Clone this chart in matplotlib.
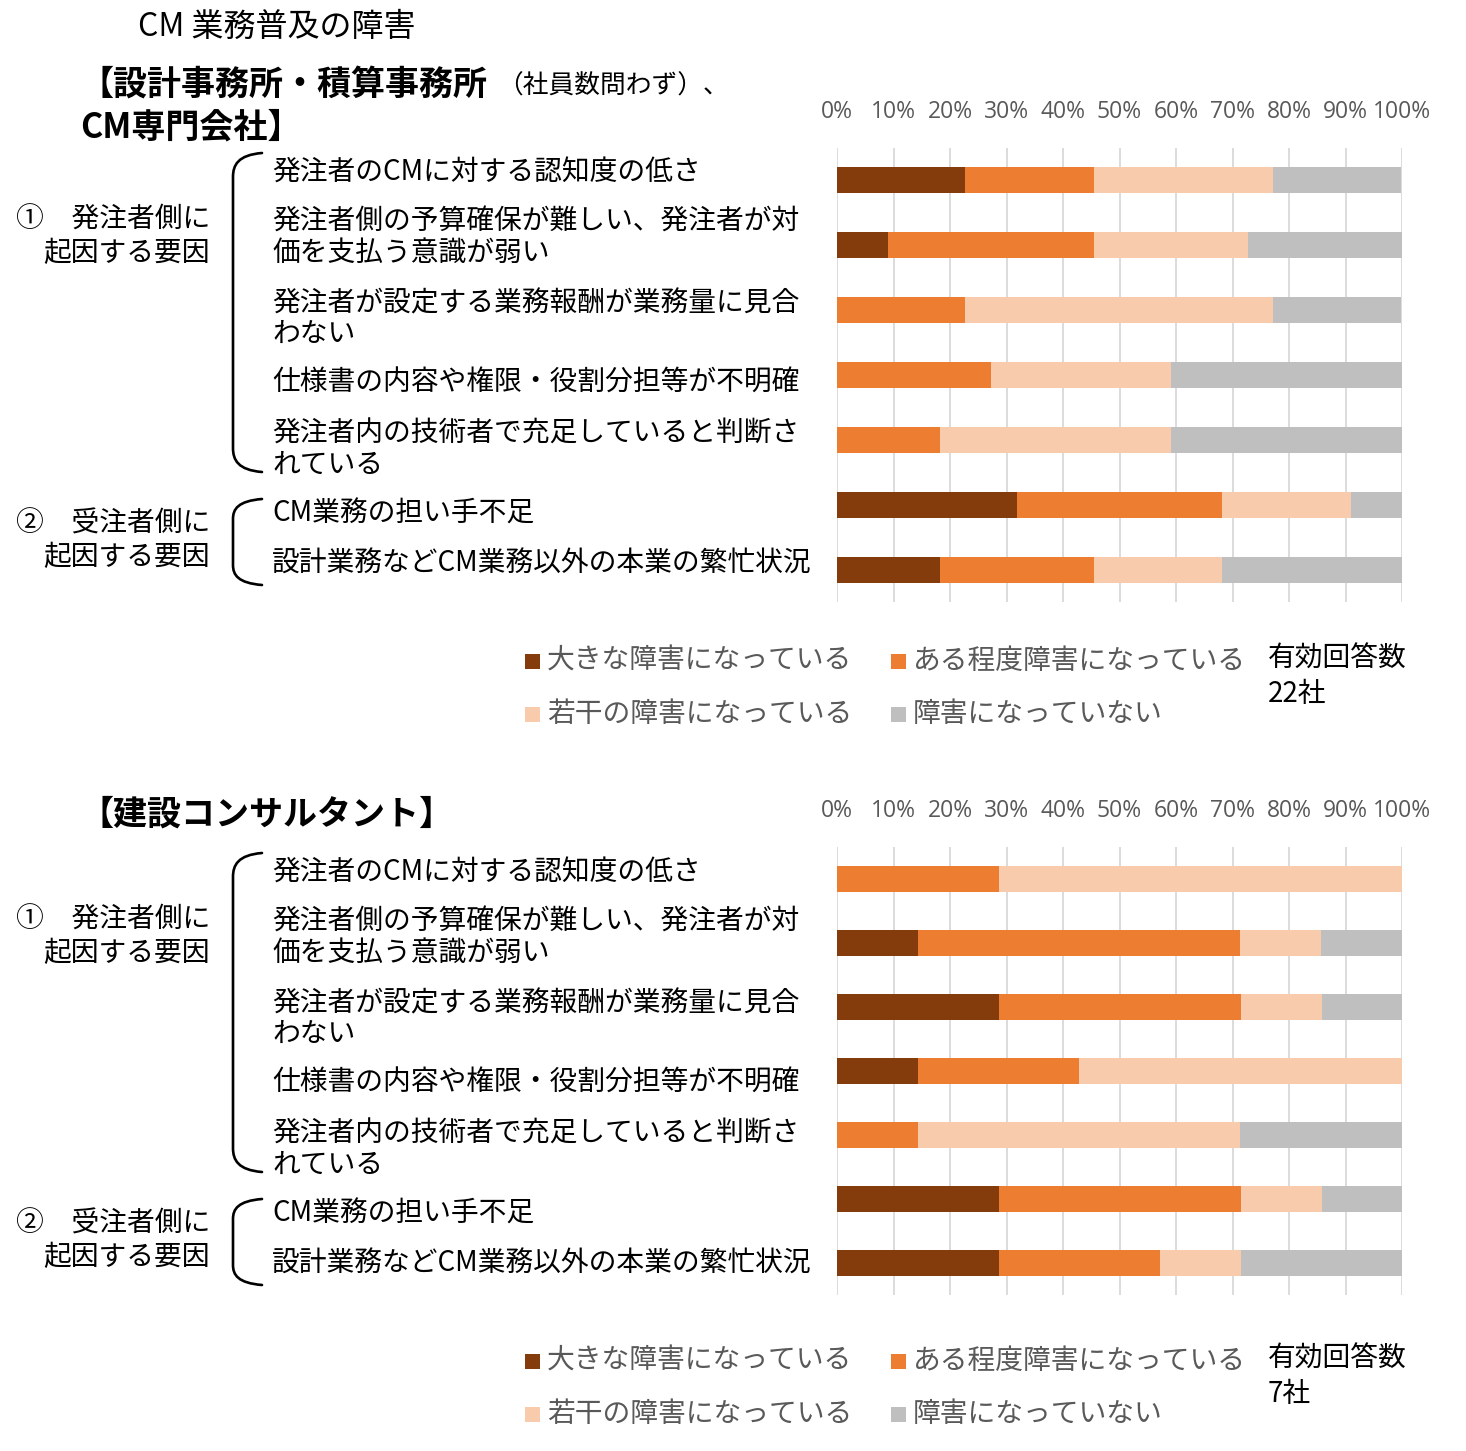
import numpy as np
import matplotlib
matplotlib.use('Agg')
import matplotlib.pyplot as plt
from matplotlib.path import Path
from matplotlib.patches import PathPatch, Rectangle

plt.rcParams['font.family'] = ['Noto Sans CJK JP', 'DejaVu Sans']

# data
categories = [
    '発注者のCMに対する認知度の低さ',
    '発注者側の予算確保が難しい、発注者が対\n価を支払う意識が弱い',
    '発注者が設定する業務報酬が業務量に見合\nわない',
    '仕様書の内容や権限・役割分担等が不明確',
    '発注者内の技術者で充足していると判断さ\nれている',
    'CM業務の担い手不足',
    '設計業務などCM業務以外の本業の繁忙状況',
]
series_names = ['大きな障害になっている', 'ある程度障害になっている',
                '若干の障害になっている', '障害になっていない']
colors = ['#843C0C', '#ED7D31', '#F8CBAD', '#BFBFBF']

# 設計事務所・積算事務所、CM専門会社 (22社), %
a_major = [22.7, 9.1, 0, 0, 0, 31.8, 18.2]
a_some = [22.7, 36.4, 22.7, 27.3, 18.2, 36.4, 27.3]
a_slight = [31.8, 27.3, 54.5, 31.8, 40.9, 22.7, 22.7]
a_none = [22.7, 27.3, 22.7, 40.9, 40.9, 9.1, 31.8]

# 建設コンサルタント (7社), %
b_major = [0, 14.3, 28.6, 14.3, 0, 28.6, 28.6]
b_some = [28.6, 57.1, 42.9, 28.6, 14.3, 42.9, 28.6]
b_slight = [71.4, 14.3, 14.3, 57.1, 57.1, 14.3, 14.3]
b_none = [0, 14.3, 14.3, 0, 28.6, 14.3, 28.6]

ticks = list(range(0, 101, 10))

W, H = 1466, 1451
fig = plt.figure(figsize=(W / 100, H / 100), dpi=100)
fig.patch.set_facecolor('white')

ov = fig.add_axes([0, 0, 1, 1], zorder=5)
ov.set_xlim(0, W)
ov.set_ylim(H, 0)
ov.axis('off')

FS = 20


def bracket(x_end, x_line, y_top, y_bot, r):
    verts = [(x_end, y_top), (x_line + 5, y_top + 2), (x_line, y_top + r * 0.5), (x_line, y_top + r),
             (x_line, y_bot - r),
             (x_line, y_bot - r * 0.5), (x_line + 5, y_bot - 2), (x_end, y_bot)]
    codes = [Path.MOVETO, Path.CURVE4, Path.CURVE4, Path.CURVE4, Path.LINETO,
             Path.CURVE4, Path.CURVE4, Path.CURVE4]
    ov.add_patch(PathPatch(Path(verts, codes), fill=False, lw=1.9, color='black',
                           capstyle='round'))


def panel(y0, ax_top, ax_bot, series, n_text):
    ax = fig.add_axes([837 / W, 1 - ax_bot / H, 565 / W, (ax_bot - ax_top) / H])
    y = np.arange(len(categories))
    left = np.zeros(len(categories))
    for vals, c, name in zip(series, colors, series_names):
        ax.barh(y, vals, left=left, height=0.4, color=c, label=name, zorder=3)
        left += np.array(vals)
    ax.set_xlim(0, 100)
    ax.set_ylim(len(categories) - 0.5, -0.5)
    ax.set_xticks(ticks)
    ax.set_xticklabels([f'{t}%' for t in ticks], family='Open Sans', fontsize=16.5,
                       color='#595959')
    ax.xaxis.tick_top()
    ax.tick_params(axis='x', length=0, pad=17)
    ax.set_yticks([])
    ax.grid(axis='x', color='#D9D9D9', lw=1.3, zorder=0)
    for s in ax.spines.values():
        s.set_visible(False)

    # category labels
    first_line = [173, 222, 303, 383, 434, 514, 564]
    for lab, ly in zip(categories, first_line):
        for k, line in enumerate(lab.split('\n')):
            ov.text(272, y0 + ly + k * 31, line, fontsize=FS, va='center', ha='left')

    # group labels
    ov.text(210, y0 + 220, '①　発注者側に', fontsize=FS, va='center', ha='right')
    ov.text(210, y0 + 253, '起因する要因', fontsize=FS, va='center', ha='right')
    ov.text(210, y0 + 524, '②　受注者側に', fontsize=FS, va='center', ha='right')
    ov.text(210, y0 + 557, '起因する要因', fontsize=FS, va='center', ha='right')
    bracket(262, 233, y0 + 153, y0 + 472, 24)
    bracket(262, 233, y0 + 499, y0 + 585, 20)

    # legend
    pos = [(525, 661), (891, 661), (525, 714), (891, 714)]
    for (lx, ly), c, name in zip(pos, colors, series_names):
        ov.add_patch(Rectangle((lx, y0 + ly - 7), 15, 15, color=c, lw=0))
        ov.text(lx + 22, y0 + ly, name, fontsize=FS, va='center', ha='left',
                color='#595959')
    ov.text(1268, y0 + 659, '有効回答数', fontsize=FS, va='center', ha='left')
    ov.text(1268, y0 + 694, n_text, fontsize=FS, va='center', ha='left')
    return ax


ov.text(138, 27, 'CM 業務普及の障害', fontsize=23, va='center', ha='left')
ov.text(80, 84, '【設計事務所・積算事務所', fontsize=24.5, fontweight='bold', va='center', ha='left')
ov.text(497, 87, '（社員数問わず）、', fontsize=18.5, va='center', ha='left')
ov.text(80, 127, 'CM専門会社】', fontsize=24.5, fontweight='bold', va='center', ha='left')
ov.text(80, 814, '【建設コンサルタント】', fontsize=24.5, fontweight='bold', va='center', ha='left')

panel(0, 148, 602, [a_major, a_some, a_slight, a_none], '22社')
panel(700, 847, 1295, [b_major, b_some, b_slight, b_none], '7社')

fig.savefig('out.png', dpi=100, facecolor='white')
